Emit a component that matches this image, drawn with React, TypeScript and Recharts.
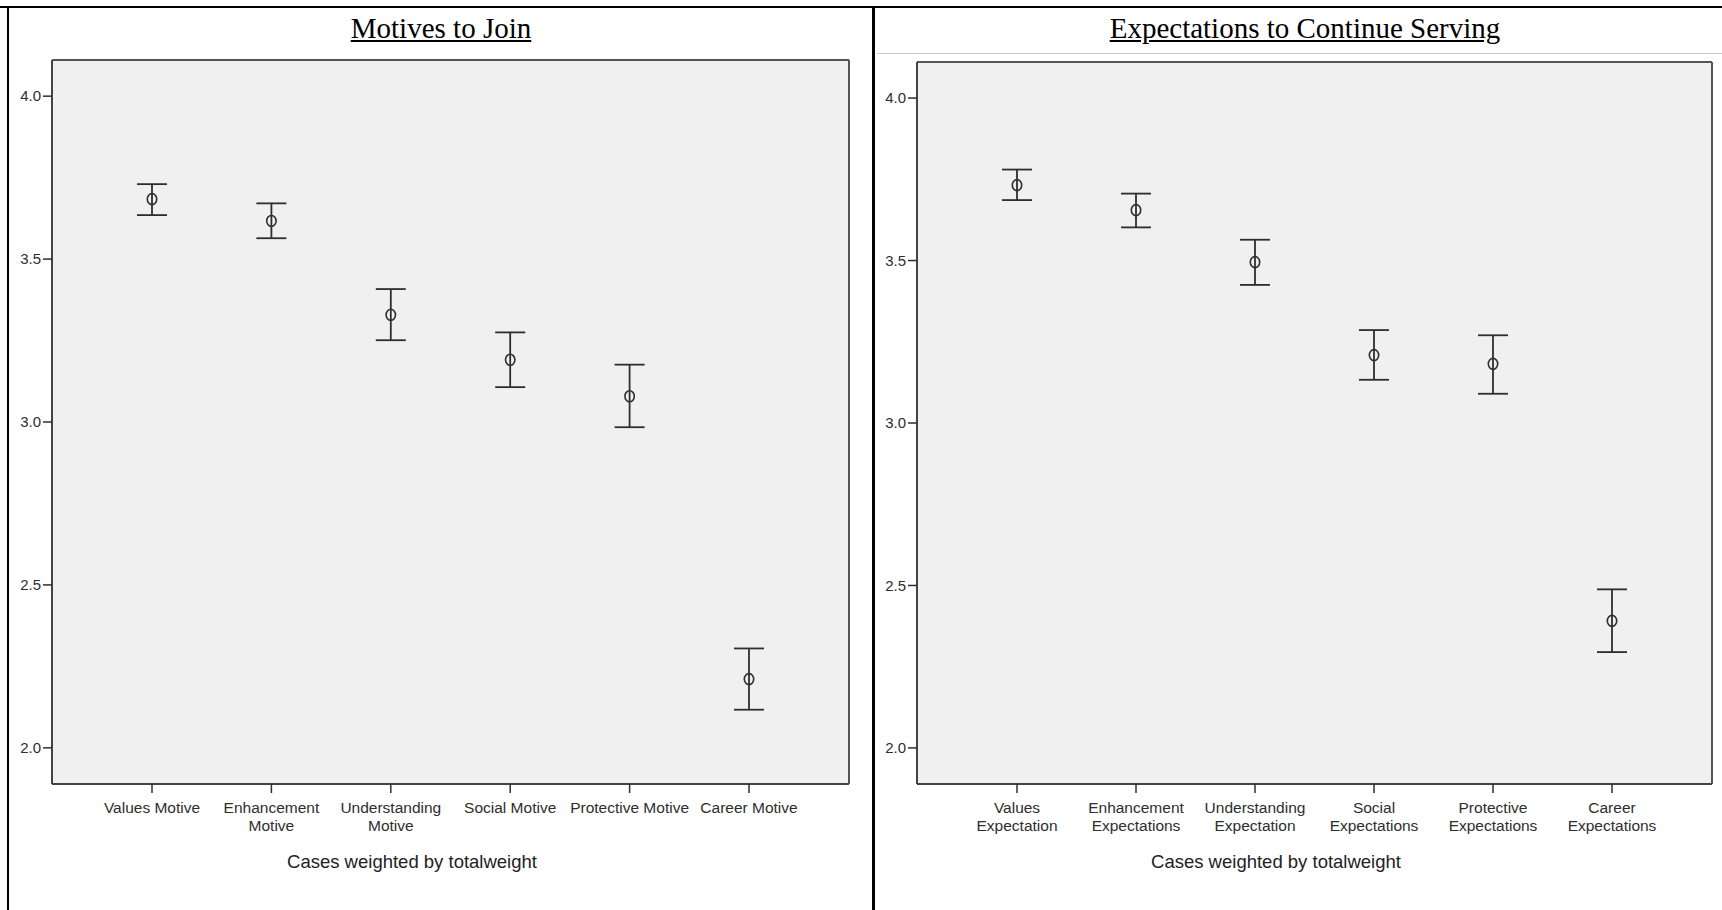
import { ComposedChart, Line, ErrorBar, XAxis, YAxis, CartesianGrid } from "recharts";

const motiveCategories = [
  "Values Motive",
  "Enhancement\nMotive",
  "Understanding\nMotive",
  "Social Motive",
  "Protective Motive",
  "Career Motive",
];
const motiveMeans = [3.684, 3.617, 3.329, 3.191, 3.079, 2.211];
const motiveLower = [3.635, 3.564, 3.251, 3.107, 2.984, 2.117];
const motiveUpper = [3.730, 3.671, 3.408, 3.275, 3.176, 2.305];

const expectationCategories = [
  "Values\nExpectation",
  "Enhancement\nExpectations",
  "Understanding\nExpectation",
  "Social\nExpectations",
  "Protective\nExpectations",
  "Career\nExpectations",
];
const expectationMeans = [3.732, 3.655, 3.495, 3.209, 3.182, 2.391];
const expectationLower = [3.686, 3.602, 3.425, 3.133, 3.090, 2.295];
const expectationUpper = [3.780, 3.706, 3.564, 3.286, 3.270, 2.488];

const yTicks = [2.0, 2.5, 3.0, 3.5, 4.0];
const yDomain = [1.889, 4.111];

const sans = "'Liberation Sans', Arial, sans-serif";
const serif = "'Liberation Serif', 'Times New Roman', serif";
const ink = "#2e2e2e";

function buildRows(names: string[], means: number[], lower: number[], upper: number[]) {
  return names.map((name, i) => ({
    name,
    mean: means[i],
    err: [means[i] - lower[i], upper[i] - means[i]],
  }));
}

function CategoryTick(props: any) {
  const { x, y, payload } = props;
  const lines = String(payload.value).split("\n");
  return (
    <text x={x} y={y + 17.5} textAnchor="middle" fill={ink} fontSize={15.5} fontFamily={sans}>
      {lines.map((l, i) => (
        <tspan key={i} x={x} dy={i === 0 ? 0 : 18}>
          {l}
        </tspan>
      ))}
    </text>
  );
}

function MeanDot(props: any) {
  const { cx, cy, index } = props;
  if (cx == null || cy == null) return null;
  return <ellipse key={index} cx={cx} cy={cy} rx={4.7} ry={5.5} fill="none" stroke={ink} strokeWidth={1.6} />;
}

function MeansPanel({ rows, width, margin }: { rows: any[]; width: number; margin: any }) {
  return (
    <ComposedChart width={width} height={910} data={rows} margin={margin} style={{ fontFamily: sans }}>
      <CartesianGrid
        fill="#f0f0f0"
        stroke="#555"
        strokeWidth={2}
        horizontalCoordinatesGenerator={({ offset }: any) => [offset.top, offset.top + offset.height]}
        verticalCoordinatesGenerator={({ offset }: any) => [offset.left, offset.left + offset.width]}
      />
      <XAxis
        dataKey="name"
        type="category"
        scale="point"
        padding={{ left: 100, right: 100 }}
        interval={0}
        height={60}
        tickSize={9}
        tick={<CategoryTick />}
        tickLine={{ stroke: ink, strokeWidth: 1.5 }}
        axisLine={{ stroke: "#444", strokeWidth: 2 }}
      />
      <YAxis
        type="number"
        domain={yDomain}
        ticks={yTicks}
        allowDataOverflow
        width={40}
        tickSize={9}
        tickMargin={2}
        tickFormatter={(v: number) => v.toFixed(1)}
        tick={{ fill: ink, fontSize: 15, fontFamily: sans }}
        tickLine={{ stroke: ink, strokeWidth: 1.5 }}
        axisLine={{ stroke: "#444", strokeWidth: 2 }}
      />
      <Line dataKey="mean" stroke="none" isAnimationActive={false} dot={MeanDot} activeDot={false}>
        <ErrorBar dataKey="err" direction="y" width={15} stroke={ink} strokeWidth={1.8} isAnimationActive={false} />
      </Line>
    </ComposedChart>
  );
}

const titleStyle: any = {
  position: "absolute",
  top: 13.7,
  width: 864,
  textAlign: "center",
  fontFamily: serif,
  fontSize: 29,
  lineHeight: "29px",
  textDecoration: "underline",
  color: "#000",
};

const noteStyle: any = {
  position: "absolute",
  top: 851.6,
  width: 400,
  textAlign: "center",
  fontFamily: sans,
  fontSize: 18.5,
  lineHeight: "20px",
  color: "#222",
};

export default function App() {
  const motiveRows = buildRows(motiveCategories, motiveMeans, motiveLower, motiveUpper);
  const expectationRows = buildRows(expectationCategories, expectationMeans, expectationLower, expectationUpper);

  return (
    <div style={{ position: "absolute", left: 0, top: 0, width: 1722, height: 910, background: "#fff", overflow: "hidden" }}>
      <div style={{ position: "absolute", left: 0, top: 0 }}>
        <MeansPanel rows={motiveRows} width={873} margin={{ top: 60, right: 24, bottom: 66, left: 12 }} />
      </div>
      <div style={{ position: "absolute", left: 873, top: 0 }}>
        <MeansPanel rows={expectationRows} width={849} margin={{ top: 62, right: 10, bottom: 66, left: 4 }} />
      </div>

      <div style={{ ...titleStyle, left: 9 }}>Motives to Join</div>
      <div style={{ ...titleStyle, left: 873 }}>Expectations to Continue Serving</div>

      <div style={{ ...noteStyle, left: 212 }}>Cases weighted by totalweight</div>
      <div style={{ ...noteStyle, left: 1076 }}>Cases weighted by totalweight</div>

      <div style={{ position: "absolute", left: 877, top: 53, width: 845, height: 1, background: "#c8c8c8" }} />
      <div style={{ position: "absolute", left: 0, top: 6, width: 1722, height: 2, background: "#000" }} />
      <div style={{ position: "absolute", left: 7, top: 6, width: 2, height: 904, background: "#000" }} />
      <div style={{ position: "absolute", left: 872, top: 6, width: 3, height: 904, background: "#000" }} />
    </div>
  );
}
